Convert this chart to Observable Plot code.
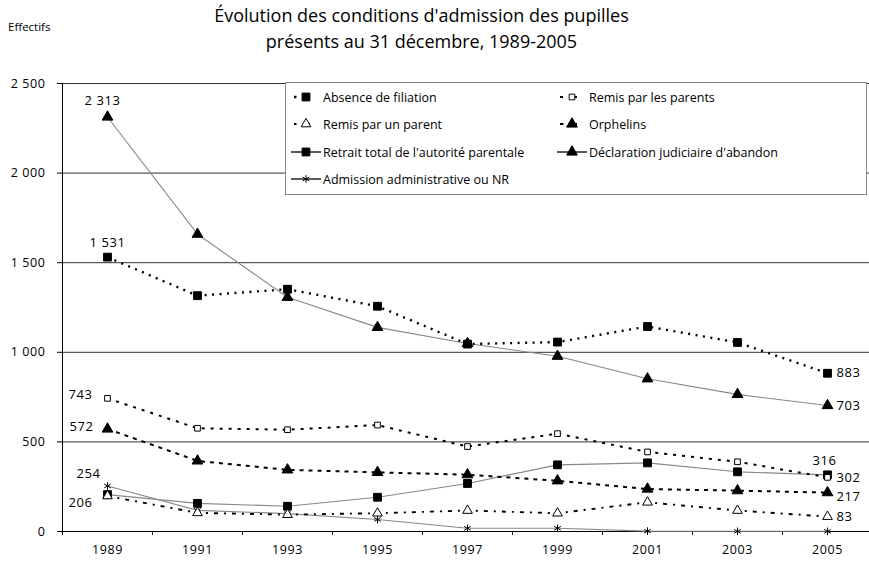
<!DOCTYPE html>
<html><head><meta charset="utf-8">
<script src="https://cdn.jsdelivr.net/npm/d3@7"></script>
<script src="https://cdn.jsdelivr.net/npm/@observablehq/plot@0.6"></script>
<style>
html,body{margin:0;padding:0;background:#fff;overflow:hidden;}
body{font-family:"Open Sans",sans-serif;color:#000;}
#wrap{position:relative;width:869px;height:562px;}
#head{position:relative;height:58px;}
.t{position:absolute;left:0;width:843px;text-align:center;font-size:18px;line-height:24px;}
#eff{position:absolute;left:8px;top:19px;font-size:11.5px;line-height:16px;}
#legend{position:absolute;left:285px;top:82px;width:582px;height:113px;background:#fff;border:1.5px solid #888;box-sizing:border-box;font-size:12.5px;}
.li{position:absolute;display:flex;align-items:center;height:20px;white-space:nowrap;}
.li svg{margin-right:2px;}
#chart svg g[aria-label="y-axis tick label"] text,
#chart svg g[aria-label="x-axis tick label"] text{font-size:12.5px !important;letter-spacing:0.6px;}
#chart svg g[aria-label="text"] text{letter-spacing:0.6px;}
</style></head>
<body><div id="wrap">
<div id="head">
<div class="t" style="top:3px">Évolution des conditions d'admission des pupilles</div>
<div class="t" style="top:29px">présents au 31 décembre, 1989-2005</div>
<div id="eff">Effectifs</div>
</div>
<div id="chart"></div>
<div id="legend"></div>
</div>
<script>
// ---- data ----
const years = [1989, 1991, 1993, 1995, 1997, 1999, 2001, 2003, 2005];
const seriesNames = [
  "Absence de filiation",
  "Remis par les parents",
  "Remis par un parent",
  "Orphelins",
  "Retrait total de l'autorité parentale",
  "Déclaration judiciaire d'abandon",
  "Admission administrative ou NR"
];
const absenceFiliation      = [1531, 1316, 1352, 1257, 1046, 1057, 1144, 1055, 883];
const remisParents          = [743, 576, 568, 594, 474, 546, 444, 389, 302];
const remisUnParent         = [198, 104, 94, 102, 117, 102, 163, 117, 83];
const orphelins             = [572, 394, 344, 330, 317, 283, 237, 228, 217];
const retraitTotal          = [206, 157, 141, 191, 268, 372, 383, 333, 316];
const declarationJudiciaire = [2313, 1659, 1307, 1139, 1049, 978, 852, 765, 703];
const admissionAdmin        = [254, 118, 100, 67, 18, 18, 2, 1, 1];
const yTicks = [0, 500, 1000, 1500, 2000, 2500];

const seriesValues = [absenceFiliation, remisParents, remisUnParent, orphelins, retraitTotal, declarationJudiciaire, admissionAdmin];

// ---- styles ----
const styles = [
  {symbol: "square",   fill: "#000", stroke: "#000", r: 4.4, line: "#000", width: 2.4, dash: "2,5.5", ldash: "2.5,11"},
  {symbol: "square",   fill: "#fff", stroke: "#000", r: 3.2, line: "#000", width: 2.0, dash: "3,6", ldash: "3,11"},
  {symbol: "triangle", fill: "#fff", stroke: "#000", r: 3.6, line: "#000", width: 1.9, dash: "4,6,2,6", ldash: "2.5,11"},
  {symbol: "triangle", fill: "#000", stroke: "#000", r: 4.0, line: "#000", width: 2.0, dash: "4,5", ldash: "3.5,10"},
  {symbol: "square",   fill: "#000", stroke: "#000", r: 4.4, line: "#888", width: 1.1, dash: null},
  {symbol: "triangle", fill: "#000", stroke: "#000", r: 4.0, line: "#888", width: 1.1, dash: null},
  {symbol: "asterisk", fill: "none", stroke: "#000", r: 3.6, line: "#888", width: 1.1, dash: null}
];
// label placement: series index, which end, offsets
const labelSpecs = [
  {s: 5, at: 0, dx: -5, dy: -16, anchor: "middle"},
  {s: 0, at: 0, dx: 0, dy: -14, anchor: "middle"},
  {s: 1, at: 0, dx: -15, dy: -4, anchor: "end"},
  {s: 3, at: 0, dx: -14, dy: -2, anchor: "end"},
  {s: 6, at: 0, dx: -7, dy: -12, anchor: "end"},
  {s: 4, at: 0, dx: -15, dy: 8, anchor: "end"},
  {s: 0, at: 8, dx: 9, dy: 0, anchor: "start"},
  {s: 5, at: 8, dx: 9, dy: 0, anchor: "start"},
  {s: 4, at: 8, dx: -3, dy: -14, anchor: "middle"},
  {s: 1, at: 8, dx: 9, dy: 0, anchor: "start"},
  {s: 3, at: 8, dx: 9, dy: 4, anchor: "start"},
  {s: 2, at: 8, dx: 9, dy: 0, anchor: "start"}
];

const locale = d3.formatLocale({decimal: ",", thousands: "\u00a0", grouping: [3], currency: ["", " €"]});
const fmt = locale.format(",d");

const rows = seriesNames.map((name, k) => years.map((year, i) => ({series: name, k, year, value: seriesValues[k][i]})));
const boundaries = d3.range(years[0] - 1, years[years.length - 1] + 2, 2);

const drawOrder = [6, 5, 4, 2, 3, 1, 0];
const marks = [
  Plot.ruleY(yTicks.filter(d => d > 0), {stroke: "#333", strokeWidth: 1}),
  Plot.ruleX([boundaries[0]], {stroke: "#000", strokeWidth: 1}),
  Plot.ruleY([0], {stroke: "#000", strokeWidth: 1.2}),
  Plot.axisY({ticks: yTicks, tickSize: 5, tickPadding: 12, tickFormat: fmt, label: null, fontSize: 12.5}),
  Plot.axisX({ticks: boundaries, tickSize: 4, tickFormat: () => "", label: null}),
  Plot.axisX({ticks: years, tickSize: 0, tickPadding: 14, tickFormat: d => String(d), label: null, fontSize: 12.5})
];
for (const k of drawOrder) {
  const st = styles[k];
  marks.push(Plot.line(rows[k], {x: "year", y: "value", stroke: st.line, strokeWidth: st.width, strokeDasharray: st.dash, strokeLinecap: st.dash ? "butt" : "round"}));
}
for (const k of drawOrder) {
  const st = styles[k];
  marks.push(Plot.dot(rows[k], {x: "year", y: "value", symbol: st.symbol, r: st.r, fill: st.fill, stroke: st.stroke, strokeWidth: 1}));
}
for (const L of labelSpecs) {
  const d = rows[L.s][L.at];
  marks.push(Plot.text([d], {x: "year", y: "value", text: d => fmt(d.value), dx: L.dx, dy: L.dy, textAnchor: L.anchor, fontSize: 13}));
}

const chart = Plot.plot({
  width: 869,
  height: 504,
  marginTop: 25,
  marginBottom: 31,
  marginLeft: 62,
  marginRight: 0,
  style: {fontFamily: "Open Sans, sans-serif", fontSize: "12.5px", color: "#000", background: "#fff"},
  x: {domain: [boundaries[0], boundaries[boundaries.length - 1]], range: [62, 872]},
  y: {domain: [0, 2500]},
  marks
});
document.getElementById("chart").appendChild(chart);

// ---- legend ----
const symbolMap = {square: d3.symbolSquare, triangle: d3.symbolTriangle, asterisk: d3.symbolAsterisk};
const legendPos = [
  {left: 5, top: 4}, {left: 271, top: 4},
  {left: 5, top: 31}, {left: 271, top: 31},
  {left: 5, top: 59}, {left: 271, top: 59},
  {left: 5, top: 86}
];
const legend = d3.select("#legend");
seriesNames.forEach((name, k) => {
  const st = styles[k];
  const item = legend.append("div").attr("class", "li").style("left", legendPos[k].left + "px").style("top", legendPos[k].top + "px");
  const svg = item.append("svg").attr("width", 30).attr("height", 20);
  if (st.dash) {
    svg.append("line").attr("x1", 3).attr("x2", 28).attr("y1", 10).attr("y2", 10)
      .attr("stroke", st.line).attr("stroke-width", st.width).attr("stroke-dasharray", st.ldash);
  } else {
    svg.append("line").attr("x1", 0).attr("x2", 30).attr("y1", 10).attr("y2", 10).attr("stroke", "#000").attr("stroke-width", 1.3);
  }
  svg.append("path").attr("transform", "translate(15,10)")
    .attr("d", d3.symbol(symbolMap[st.symbol], Math.PI * st.r * st.r)())
    .attr("fill", st.fill).attr("stroke", st.stroke).attr("stroke-width", 1);
  item.append("span").text(name);
});
</script>
</body></html>
